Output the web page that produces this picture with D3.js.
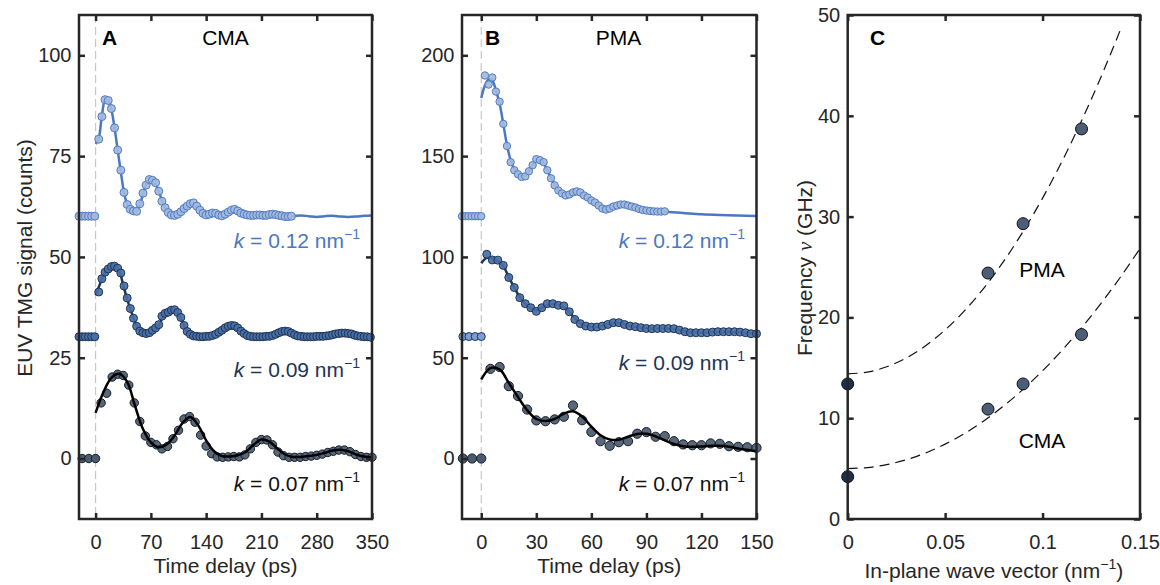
<!DOCTYPE html>
<html><head><meta charset="utf-8">
<script src="https://cdn.jsdelivr.net/npm/d3@7"></script>
<style>
body{margin:0;background:#fff;}
svg{display:block;font-family:"Liberation Sans",Arial,sans-serif;}
</style></head><body>
<svg id="chart" width="1160" height="585"></svg>
<script>
// ---------------- DATA ----------------
// Panel A (CMA) tick labels
const A_XTICKS = [0,70,140,210,280,350];
const A_YTICKS = [0,25,50,75,100];
// Panel B (PMA) tick labels
const B_XTICKS = [0,30,60,90,120,150];
const B_YTICKS = [0,50,100,150,200];
// Panel C tick labels
const C_XTICKS = [0,0.05,0.1,0.15];
const C_YTICKS = [0,10,20,30,40,50];

// Panel A, k = 0.12 (offset 60): [time ps, counts]
const A12_pre = [[-21,60.1],[-17,60.1],[-13,60.1],[-9,60.1],[-5,60.1],[-1,60.1]];
const A12_pts = [[4,79.2],[8,84.8],[12,89],[16,88.8],[20,86.8],[24,82],[28,76.5],[32,71.5],[36,66],[40,63],
 [44,61.8],[48,61.4],[52,61.3],[56,63.2],[60,65.8],[64,67.8],[68,69.2],[72,69],[76,68.4],[80,66.3],
 [84,63.8],[88,62.2],[92,61],[96,60.4],[100,60.3],[104,60.6],[108,61.2],[112,62],[116,62.6],[120,63.2],
 [124,63.4],[128,62.6],[132,61.6],[136,60.8],[140,60.4],[144,60.6],[148,60.9],[152,60.8],[156,60.4],[160,60.2],
 [164,60.6],[168,61.1],[172,61.6],[176,61.8],[180,61.4],[184,60.9],[188,60.6],[192,60.4],[196,60.3],[200,60.3],
 [204,60.4],[208,60.4],[212,60.3],[216,60.3],[220,60.5],[224,60.6],[228,60.5],[232,60.3],[236,60.2],[240,60.0],
 [244,60.0],[248,60.1]];
const A12_fit = [[0,78],[4,79.5],[8,85],[12,88.8],[16,88.8],[20,86.5],[24,82],[28,76.5],[32,71],[36,66],[40,63],
 [44,61.8],[48,61.3],[52,61.5],[56,63],[60,65.5],[64,67.8],[68,69],[72,69],[76,68],[80,66.3],[84,64],[88,62.2],
 [92,61],[96,60.5],[100,60.4],[105,60.8],[110,61.6],[115,62.5],[120,63],[125,62.9],[130,62],[135,61],[140,60.4],
 [145,60.5],[150,60.8],[155,60.6],[160,60.3],[165,60.6],[170,61.2],[175,61.6],[180,61.4],[185,60.9],[190,60.5],
 [200,60.3],[210,60.4],[220,60.4],[230,60.4],[240,60.1],[250,60.1],[260,60.3],[270,60.1],[280,59.9],[290,60.1],
 [300,60.2],[310,60],[320,59.9],[330,60],[340,60.2],[350,60.3]];

// Panel A, k = 0.09 (offset 30)
const A09_pre = [[-21,30.2],[-17,30.2],[-13,30.2],[-9,30.2],[-5,30.2],[-1,30.2]];
const A09_pts = [[4,41.3],[8,44.6],[12,46.2],[16,47],[20,47.6],[24,47.7],[28,47.2],[32,46],[36,42.8],[40,39.8],
 [44,37.2],[48,34.8],[52,32.8],[56,31.6],[60,31.2],[64,31],[68,31.2],[72,31.8],[76,32.4],[80,33.2],
 [84,35.3],[88,36],[92,36.3],[96,36.8],[100,36.9],[104,36.2],[108,35],[112,33],[116,31.5],[120,30.8],
 [124,30.4],[128,30.3],[132,30.2],[136,30.2],[140,30.3],[144,30.3],[148,30.5],[152,30.8],[156,31.3],[160,31.8],
 [164,32.4],[168,32.8],[172,33],[176,32.9],[180,32.4],[184,31.6],[188,31],[192,30.5],[196,30.3],[200,30.2],
 [204,30.2],[208,30.2],[212,30.2],[216,30.3],[220,30.3],[224,30.5],[228,30.8],[232,31.2],[236,31.5],[240,31.6],
 [244,31.5],[248,31.1],[252,30.7],[256,30.4],[260,30.3],[264,30.2],[268,30.2],[272,30.2],[276,30.2],[280,30.3],
 [284,30.3],[288,30.3],[292,30.4],[296,30.5],[300,30.7],[304,30.9],[308,31],[312,31.1],[316,31.1],[320,31],
 [324,30.9],[328,30.6],[332,30.4],[336,30.3],[340,30.2],[344,30.2],[348,30.1]];
const A09_fit = [[0,40.5],[5,43],[10,45.5],[15,47],[20,47.7],[25,47.5],[30,46.5],[35,43],[40,39.5],[45,36.5],
 [50,33.8],[55,32],[60,31.2],[65,31],[70,31.3],[75,32],[80,33],[85,35],[90,36],[95,36.5],[100,36.8],[105,35.9],
 [110,33.8],[115,31.8],[120,30.8],[130,30.3],[140,30.3],[150,30.4],[160,31.2],[170,32.8],[175,33],[180,32.6],
 [190,31],[200,30.3],[210,30.3],[220,30.4],[230,30.8],[240,31.5],[250,31.4],[260,30.7],[270,30.3],[280,30.3],
 [290,30.3],[300,30.5],[310,30.9],[320,31],[330,30.8],[340,30.4],[350,30.1]];

// Panel A, k = 0.07 (offset 0)
const A07_pre = [[-17,0],[-8.5,0],[0,0]];
const A07_pts = [[7,13.8],[14,16.2],[21,20.2],[28,20.9],[35,20.6],[42,18.2],[49,13.8],[56,9.2],[63,5.6],[70,4.0],
 [77,3.4],[84,2.4],[91,3.0],[98,4.9],[105,7.0],[112,9.8],[119,10.4],[126,9.0],[133,5.8],[140,3.1],
 [147,1.2],[154,0.4],[161,0.3],[168,0.4],[175,0.5],[182,0.4],[189,0.9],[196,2.4],[203,4.0],[210,4.7],
 [217,4.6],[224,3.4],[231,1.6],[238,0.7],[245,0.3],[252,0.3],[259,0.3],[266,0.5],[273,0.6],[280,0.8],
 [287,1.1],[294,1.5],[301,1.8],[308,2.1],[315,2.1],[322,1.7],[329,1.0],[336,0.5],[343,0.3],[350,0.3]];
const A07_fit = [[0,11.3],[10,16.5],[20,20],[30,21],[40,19],[50,13],[60,7.3],[70,4],[80,2.8],[90,3.5],[100,5.7],
 [110,8.8],[120,10.3],[130,8.2],[140,4.5],[150,1.8],[160,0.6],[170,0.5],[180,0.8],[190,1.6],[200,3.4],[210,4.7],
 [220,4.2],[230,2.5],[240,1.0],[250,0.4],[260,0.4],[270,0.6],[280,0.9],[290,1.4],[300,2.0],[310,2.2],[320,1.8],
 [330,1.0],[340,0.5],[350,0.3]];

// Panel B, k = 0.12 (offset 120)
const B12_pre = [[-10.5,120.2],[-8.75,120.2],[-7,120.2],[-5.25,120.2],[-3.5,120.2],[-1.75,120.2],[0,120.2]];
const B12_pts = [[2,190],[4,185.5],[6,189],[8,182],[10,177],[12,166],[14,155],[16,147],[18,143],[20,141],
 [22,139.7],[24,140],[26,142.5],[28,145.5],[30,148.5],[32,148],[34,147],[36,143],[38,139],[40,135.5],
 [42,133],[44,131.5],[46,130.5],[48,131],[50,132],[52,132.5],[54,132],[56,130.5],[58,129.5],[60,128],
 [62,127],[64,125.5],[66,124],[68,123.5],[70,124],[72,125],[74,125.5],[76,126],[78,126],[80,125.5],
 [82,125],[84,124.5],[86,123.8],[88,123.3],[90,123],[92,122.8],[94,122.6],[96,122.5],[98,122.5],[100,122.6]];
const B12_fit = [[0,178.8],[2,185],[4,188],[6,187.5],[8,182.5],[10,176],[12,166],[14,155.5],[16,148],[18,143.5],
 [20,141],[22,140],[24,140.3],[26,142.5],[28,145.5],[30,147.8],[32,148],[34,146.5],[36,143],[38,139.2],[40,135.8],
 [42,133.2],[44,131.5],[46,130.8],[48,131],[50,131.8],[52,132.2],[54,131.8],[56,130.6],[58,129.3],[60,128],
 [64,125.5],[68,123.8],[72,124.8],[76,125.8],[80,125.5],[84,124.5],[88,123.4],[92,122.8],[96,122.5],[100,122.4],
 [110,121.8],[120,121.2],[130,120.8],[140,120.5],[150,120.3]];

// Panel B, k = 0.09 (offset 60)
const B09_pre = [[-10,60.5],[-6.7,60.5],[-3.3,60.5],[0,60.5]];
const B09_pts = [[3,101.3],[6,98.5],[9,98.4],[12,95.8],[15,89.8],[18,84.8],[21,79.8],[24,76.8],[27,74.8],[30,73],
 [33,74.8],[36,76.8],[39,76.8],[42,76],[45,75.7],[48,72.8],[51,69],[54,66.9],[57,65.7],[60,65.2],
 [63,65.2],[66,65.7],[69,66.5],[72,67.4],[75,67.4],[78,66.5],[81,65.7],[84,65.4],[87,64.9],[90,64.5],
 [93,64.4],[96,64.5],[99,64.5],[102,64.5],[105,64.4],[108,63.7],[111,62.9],[114,62.4],[117,62.4],[120,62.4],
 [123,62.4],[126,62.7],[129,62.9],[132,62.9],[135,62.9],[138,62.9],[141,62.7],[144,62.4],[147,61.9],[150,61.9]];
const B09_fit = [[0,96.9],[3,99.5],[6,99.2],[9,98],[12,95.5],[15,90],[18,84.8],[21,80],[24,76.8],[27,74.5],
 [30,73.6],[33,74.8],[36,76.2],[39,76.7],[42,76.2],[45,75],[48,72.6],[51,69.5],[54,67.2],[57,65.8],[60,65.2],
 [63,65.3],[66,65.8],[69,66.6],[72,67.2],[75,67.2],[78,66.6],[81,65.8],[84,65.3],[87,64.9],[90,64.6],[95,64.5],
 [100,64.5],[105,64.3],[110,63.3],[115,62.6],[120,62.4],[125,62.6],[130,62.8],[135,62.8],[140,62.6],[145,62.3],[150,62]];

// Panel B, k = 0.07 (offset 0)
const B07_pre = [[-10,0],[-5,0],[0,0]];
const B07_pts = [[5,44.5],[10,45.4],[15,35.9],[20,31],[25,24.3],[30,18.9],[35,18.5],[40,19.4],[45,20.7],[50,26.3],
 [55,19],[60,13.2],[65,8.6],[70,6.3],[75,8.1],[80,8.6],[85,12.3],[90,13.1],[95,10.8],[100,11.1],
 [105,8.6],[110,7],[115,6.6],[120,6.6],[125,7.5],[130,7.3],[135,6.1],[140,5.8],[145,5.6],[150,5.3]];
const B07_fit = [[0,39.2],[5,44.8],[10,44.2],[15,37.5],[20,30.5],[25,24],[30,19.6],[35,18.6],[40,19.6],[45,22.3],
 [50,23.4],[55,20.8],[60,15.8],[65,11.5],[70,9.4],[75,9.3],[80,10.8],[85,12.2],[90,12.3],[95,11],[100,9],
 [105,7.2],[110,6.1],[115,5.8],[120,6],[125,6.3],[130,6.3],[135,5.8],[140,5],[145,4.3],[150,3.6]];

// Panel C: dispersion (k in nm^-1, frequency in GHz)
const C_K = [0, 0.072, 0.09, 0.12];
const C_PMA = [13.4, 24.4, 29.3, 38.7];
const C_CMA = [4.2, 10.9, 13.4, 18.3];
const C_FIT_K = [0,0.01,0.02,0.03,0.04,0.05,0.06,0.07,0.08,0.09,0.10,0.11,0.12,0.13,0.14];
const C_FIT_PMA = [14.4,14.57,15.1,15.97,17.19,18.76,20.67,22.94,25.56,28.52,31.83,35.49,39.5,43.86,48.56];
const C_FIT_K2 = [0,0.01,0.02,0.03,0.04,0.05,0.06,0.07,0.08,0.09,0.10,0.11,0.12,0.13,0.14,0.15];
const C_FIT_CMA = [5.0,5.1,5.39,5.87,6.55,7.43,8.49,9.75,11.21,12.86,14.7,16.74,18.97,21.39,24.01,26.83];

// ---------------- DRAWING ----------------
const svg = d3.select('#chart');
const TOP = 15, BOT = 519;
const INK = '#262626';
const FS_TICK = 20, FS_LAB = 21;

const STY = {
  k12: {line:'#4a78c2', fill:'#a3b8dc', stroke:'#4f7cc4', text:'#4a78c2'},
  k09: {line:'#1d3557', fill:'#4a6fa6', stroke:'#1d3557', text:'#1d3557'},
  k07: {line:'#000000', fill:'#4b5b6e', stroke:'#141c27', text:'#111111'}
};

function styleAxis(g, showText) {
  g.select('.domain').remove();
  g.selectAll('.tick line').attr('stroke', INK).attr('stroke-width', 2.5);
  g.selectAll('.tick text').attr('fill', INK).attr('font-size', FS_TICK)
   .attr('font-family', '"Liberation Sans", Arial, sans-serif');
  if (!showText) g.selectAll('.tick text').remove();
  g.attr('font-family', null).attr('font-size', null);
}

function axes(g, x, y, L, R, xt, yt, xf, yf) {
  styleAxis(g.append('g').attr('transform', `translate(0,${BOT})`)
    .call(d3.axisBottom(x).tickValues(xt).tickFormat(xf).tickSize(-6).tickPadding(16)), true);
  styleAxis(g.append('g').attr('transform', `translate(0,${TOP})`)
    .call(d3.axisTop(x).tickValues(xt).tickSize(-6)), false);
  styleAxis(g.append('g').attr('transform', `translate(${L},0)`)
    .call(d3.axisLeft(y).tickValues(yt).tickFormat(yf).tickSize(-6).tickPadding(7.5)), true);
  styleAxis(g.append('g').attr('transform', `translate(${R},0)`)
    .call(d3.axisRight(y).tickValues(yt).tickSize(-6)), false);
  g.append('rect').attr('x', L).attr('y', TOP).attr('width', R - L).attr('height', BOT - TOP)
    .attr('fill', 'none').attr('stroke', INK).attr('stroke-width', 2.5);
}

function kLabel(g, xr, yb, txt, color) {
  const t = g.append('text').attr('x', xr).attr('y', yb).attr('text-anchor', 'end')
    .attr('font-size', FS_LAB).attr('fill', color);
  t.append('tspan').attr('font-style', 'italic').text('k');
  t.append('tspan').text(' = ' + txt + ' nm');
  t.append('tspan').attr('dy', -9).attr('font-size', 14).text('\u22121');
}

function series(g, x, y, pre, pts, fit, sty, r, lineFirst, preFill) {
  const line = d3.line().x(d => x(d[0])).y(d => y(d[1])).curve(d3.curveCatmullRom.alpha(0.5));
  const drawLine = () => g.append('path').datum(fit).attr('d', line)
    .attr('fill', 'none').attr('stroke', sty.line).attr('stroke-width', 2.5).attr('stroke-linejoin', 'round');
  const drawPts = () => {
    g.append('g').selectAll('circle').data(pre).join('circle')
      .attr('cx', d => x(d[0])).attr('cy', d => y(d[1])).attr('r', r)
      .attr('fill', preFill || sty.fill).attr('stroke', sty.stroke).attr('stroke-width', 1);
    g.append('g').selectAll('circle').data(pts).join('circle')
      .attr('cx', d => x(d[0])).attr('cy', d => y(d[1])).attr('r', r)
      .attr('fill', sty.fill).attr('fill-opacity', 0.92).attr('stroke', sty.stroke).attr('stroke-width', 1);
  };
  if (lineFirst) { drawLine(); drawPts(); } else { drawPts(); drawLine(); }
}

function timePanel(cfg) {
  const g = svg.append('g');
  const x = d3.scaleLinear().domain(cfg.xd).range([cfg.L, cfg.R]);
  const y = d3.scaleLinear().domain(cfg.yd).range([BOT, TOP]);
  g.append('line').attr('x1', x(0)).attr('x2', x(0)).attr('y1', TOP).attr('y2', BOT)
    .attr('stroke', '#c8c8c8').attr('stroke-width', 1.2).attr('stroke-dasharray', '8,4');
  cfg.series.forEach(s => series(g, x, y, s.pre, s.pts, s.fit, s.sty, s.r, s.lineFirst, s.preFill));
  axes(g, x, y, cfg.L, cfg.R, cfg.xt, cfg.yt, d3.format('d'), d3.format('d'));
  g.append('text').attr('x', cfg.L + 23).attr('y', 45).attr('font-size', FS_LAB).attr('font-weight', 'bold')
    .attr('fill', '#000').text(cfg.letter);
  g.append('text').attr('x', cfg.titleX).attr('y', 45).attr('font-size', FS_LAB).attr('text-anchor', 'middle')
    .attr('fill', '#000').text(cfg.title);
  g.append('text').attr('x', (cfg.L + cfg.R) / 2).attr('y', 573).attr('font-size', FS_LAB)
    .attr('text-anchor', 'middle').attr('fill', INK).text('Time delay (ps)');
  kLabel(g, cfg.labX, 248, '0.12', STY.k12.text);
  kLabel(g, cfg.labX, cfg.lab09Y, '0.09', STY.k09.text);
  kLabel(g, cfg.labX, 491, '0.07', STY.k07.text);
  return g;
}

timePanel({
  L: 79, R: 372, xd: [-21, 350], yd: [-15, 110], xt: A_XTICKS, yt: A_YTICKS,
  letter: 'A', title: 'CMA', titleX: 225.5, labX: 360, lab09Y: 377,
  series: [
    {pre: A12_pre, pts: A12_pts, fit: A12_fit, sty: STY.k12, r: 4, lineFirst: true},
    {pre: A09_pre, pts: A09_pts, fit: A09_fit, sty: STY.k09, r: 4, lineFirst: true},
    {pre: A07_pre, pts: A07_pts, fit: A07_fit, sty: STY.k07, r: 4.2, lineFirst: false}
  ]
});
timePanel({
  L: 462, R: 756.5, xd: [-10.5, 150], yd: [-30, 220], xt: B_XTICKS, yt: B_YTICKS,
  letter: 'B', title: 'PMA', titleX: 618.5, labX: 745, lab09Y: 370,
  series: [
    {pre: B12_pre, pts: B12_pts, fit: B12_fit, sty: STY.k12, r: 3.7, lineFirst: true},
    {pre: B09_pre, pts: B09_pts, fit: B09_fit, sty: STY.k09, r: 4, lineFirst: true, preFill: '#7d9ed2'},
    {pre: B07_pre, pts: B07_pts, fit: B07_fit, sty: STY.k07, r: 4.6, lineFirst: false}
  ]
});

// Y label shared (panel A)
svg.append('text').attr('transform', 'translate(32,258) rotate(-90)').attr('text-anchor', 'middle')
  .attr('font-size', FS_LAB).attr('fill', INK).text('EUV TMG signal (counts)');

// Panel C
(function () {
  const L = 847.7, R = 1140;
  const g = svg.append('g');
  const x = d3.scaleLinear().domain([0, 0.15]).range([L, R]);
  const y = d3.scaleLinear().domain([0, 50]).range([BOT, TOP]);
  const line = d3.line().x(d => x(d[0])).y(d => y(d[1])).curve(d3.curveCatmullRom.alpha(0.5));
  const pma = C_FIT_K.map((k, i) => [k, C_FIT_PMA[i]]);
  const cma = C_FIT_K2.map((k, i) => [k, C_FIT_CMA[i]]);
  [pma, cma].forEach(d => g.append('path').datum(d).attr('d', line).attr('fill', 'none')
    .attr('stroke', '#111').attr('stroke-width', 1.2).attr('stroke-dasharray', '10,6'));
  const pts = [];
  C_K.forEach((k, i) => { pts.push([k, C_PMA[i]]); pts.push([k, C_CMA[i]]); });
  g.selectAll('circle.pt').data(pts).join('circle')
    .attr('cx', d => x(d[0])).attr('cy', d => y(d[1])).attr('r', 6)
    .attr('fill', d => d[0] === 0 ? '#1a3150' : '#4b5e76').attr('stroke', '#111').attr('stroke-width', 1);
  axes(g, x, y, L, R, C_XTICKS, C_YTICKS, d3.format(''), d3.format('d'));
  g.append('text').attr('x', 870).attr('y', 45).attr('font-size', FS_LAB).attr('font-weight', 'bold').text('C');
  g.append('text').attr('x', 1042).attr('y', 277).attr('font-size', FS_LAB).attr('text-anchor', 'middle').text('PMA');
  g.append('text').attr('x', 1042).attr('y', 448).attr('font-size', FS_LAB).attr('text-anchor', 'middle').text('CMA');
  const xl = g.append('text').attr('x', (L + R) / 2).attr('y', 578).attr('font-size', FS_LAB)
    .attr('text-anchor', 'middle').attr('fill', INK);
  xl.append('tspan').text('In-plane wave vector (nm');
  xl.append('tspan').attr('dy', -9).attr('font-size', 14).text('\u22121');
  xl.append('tspan').attr('dy', 9).text(')');
  const yl = g.append('text').attr('transform', 'translate(812,268) rotate(-90)').attr('text-anchor', 'middle')
    .attr('font-size', FS_LAB).attr('fill', INK);
  yl.append('tspan').text('Frequency ');
  yl.append('tspan').attr('font-family', '"Liberation Serif", "Times New Roman", serif').attr('font-style', 'italic').text('\u03BD');
  yl.append('tspan').text(' (GHz)');
})();
</script>
</body></html>
